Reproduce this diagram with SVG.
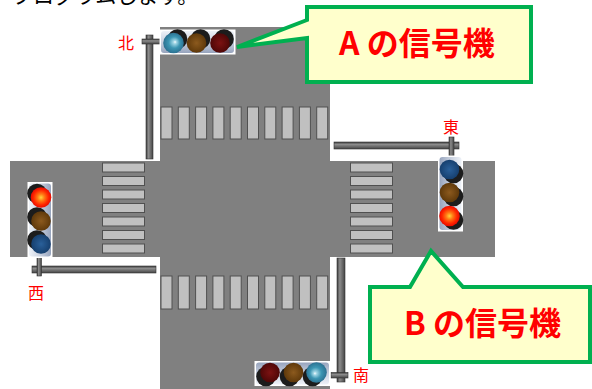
<svg xmlns="http://www.w3.org/2000/svg" xmlns:xlink="http://www.w3.org/1999/xlink" width="592" height="389" viewBox="0 0 592 389">
  <style>
    .road { fill: #808080; }
    .stripe { fill: #c0c0c0; stroke: #505050; stroke-width: 1; }
    .poleV { fill: url(#gPoleV); stroke: #333; stroke-width: 0.6; }
    .poleH { fill: url(#gPoleH); stroke: #333; stroke-width: 0.6; }
    .dir { font-family: "Noto Sans CJK JP", "Noto Sans", sans-serif; font-size: 16px; fill: #ff0000; }
    .callout { fill: #ffffcc; stroke: #00b050; stroke-width: 4; stroke-linejoin: miter; }
    .ctext { font-family: "Noto Sans CJK JP", "Liberation Sans", sans-serif; font-size: 32px; font-weight: bold; fill: #ff0000; }
    .top { font-family: "Noto Sans CJK JP", sans-serif; font-size: 21px; fill: #000; }
    .hood { fill: #1c1c1c; }
  </style>
  <defs>
    <linearGradient id="gPoleV" x1="0" y1="0" x2="1" y2="0">
      <stop offset="0" stop-color="#3c3c3c"/>
      <stop offset="0.35" stop-color="#8c8c8c"/>
      <stop offset="1" stop-color="#454545"/>
    </linearGradient>
    <linearGradient id="gPoleH" x1="0" y1="0" x2="0" y2="1">
      <stop offset="0" stop-color="#3c3c3c"/>
      <stop offset="0.35" stop-color="#8c8c8c"/>
      <stop offset="1" stop-color="#454545"/>
    </linearGradient>
    <linearGradient id="gHousing" x1="0" y1="0" x2="0" y2="1">
      <stop offset="0" stop-color="#eef2f8"/>
      <stop offset="0.5" stop-color="#c9d1e0"/>
      <stop offset="1" stop-color="#97a4bd"/>
    </linearGradient>
    <radialGradient id="gBlueOn" cx="0.5" cy="0.5" r="0.55" fx="0.58" fy="0.45">
      <stop offset="0" stop-color="#f4fcff"/>
      <stop offset="0.15" stop-color="#9fd5e4"/>
      <stop offset="0.5" stop-color="#3c96b3"/>
      <stop offset="1" stop-color="#28698a"/>
    </radialGradient>
    <radialGradient id="gBlueOff" cx="0.5" cy="0.5" r="0.55">
      <stop offset="0" stop-color="#2a609a"/>
      <stop offset="1" stop-color="#143c6a"/>
    </radialGradient>
    <radialGradient id="gAmberOff" cx="0.5" cy="0.5" r="0.55">
      <stop offset="0" stop-color="#8c5a1e"/>
      <stop offset="1" stop-color="#5a3508"/>
    </radialGradient>
    <radialGradient id="gRedOff" cx="0.5" cy="0.5" r="0.55">
      <stop offset="0" stop-color="#7c1212"/>
      <stop offset="1" stop-color="#4a0606"/>
    </radialGradient>
    <radialGradient id="gRedOn" cx="0.5" cy="0.5" r="0.55">
      <stop offset="0" stop-color="#ffd23c"/>
      <stop offset="0.3" stop-color="#ff7a14"/>
      <stop offset="0.65" stop-color="#ff2800"/>
      <stop offset="1" stop-color="#e00000"/>
    </radialGradient>

    <!-- signal head, horizontal layout: blue | amber | red, centred on the origin -->
    <g id="headBase">
      <rect x="-38" y="-12.5" width="76" height="25" fill="#ffffff"/>
      <rect x="-36.5" y="-11" width="73" height="22" rx="3" fill="url(#gHousing)"/>
      <circle class="hood" cx="-20" cy="-3" r="9.8"/>
      <circle class="hood" cx="3" cy="-3" r="9.8"/>
      <circle class="hood" cx="26.5" cy="-3" r="9.8"/>
    </g>
    <g id="headGo">
      <use xlink:href="#headBase"/>
      <circle cx="-24" cy="1" r="10.3" fill="url(#gBlueOn)"/>
      <circle cx="-1" cy="1" r="9.8" fill="url(#gAmberOff)"/>
      <circle cx="22.5" cy="1" r="9.8" fill="url(#gRedOff)"/>
    </g>
    <g id="headStop">
      <use xlink:href="#headBase"/>
      <circle cx="-24" cy="1" r="9.8" fill="url(#gBlueOff)"/>
      <circle cx="-1" cy="1" r="9.8" fill="url(#gAmberOff)"/>
      <circle cx="22.5" cy="1" r="10.3" fill="url(#gRedOn)"/>
    </g>
  </defs>

  <rect width="592" height="389" fill="#ffffff"/>

  <!-- heading line, mostly above the top edge -->
  <text class="top" x="12" y="3">プログラムします。</text>

  <!-- roads -->
  <g id="roads">
    <rect class="road" x="160" y="27" width="170" height="362"/>
    <rect class="road" x="10" y="161" width="485" height="96"/>
  </g>

  <!-- crosswalks -->
  <g id="crosswalk-north">
    <rect class="stripe" x="161" y="107" width="11" height="32"/>
    <rect class="stripe" x="178.3" y="107" width="11" height="32"/>
    <rect class="stripe" x="195.6" y="107" width="11" height="32"/>
    <rect class="stripe" x="212.9" y="107" width="11" height="32"/>
    <rect class="stripe" x="230.2" y="107" width="11" height="32"/>
    <rect class="stripe" x="247.5" y="107" width="11" height="32"/>
    <rect class="stripe" x="264.8" y="107" width="11" height="32"/>
    <rect class="stripe" x="282.1" y="107" width="11" height="32"/>
    <rect class="stripe" x="299.4" y="107" width="11" height="32"/>
    <rect class="stripe" x="316.7" y="107" width="11" height="32"/>
  </g>
  <g id="crosswalk-south">
    <rect class="stripe" x="161" y="276" width="11" height="33"/>
    <rect class="stripe" x="178.3" y="276" width="11" height="33"/>
    <rect class="stripe" x="195.6" y="276" width="11" height="33"/>
    <rect class="stripe" x="212.9" y="276" width="11" height="33"/>
    <rect class="stripe" x="230.2" y="276" width="11" height="33"/>
    <rect class="stripe" x="247.5" y="276" width="11" height="33"/>
    <rect class="stripe" x="264.8" y="276" width="11" height="33"/>
    <rect class="stripe" x="282.1" y="276" width="11" height="33"/>
    <rect class="stripe" x="299.4" y="276" width="11" height="33"/>
    <rect class="stripe" x="316.7" y="276" width="11" height="33"/>
  </g>
  <g id="crosswalk-west">
    <rect class="stripe" x="102.5" y="163" width="42" height="9"/>
    <rect class="stripe" x="102.5" y="176.5" width="42" height="9"/>
    <rect class="stripe" x="102.5" y="190" width="42" height="9"/>
    <rect class="stripe" x="102.5" y="203.5" width="42" height="9"/>
    <rect class="stripe" x="102.5" y="217" width="42" height="9"/>
    <rect class="stripe" x="102.5" y="230.5" width="42" height="9"/>
    <rect class="stripe" x="102.5" y="244" width="42" height="9"/>
  </g>
  <g id="crosswalk-east">
    <rect class="stripe" x="350.5" y="163" width="42" height="9"/>
    <rect class="stripe" x="350.5" y="176.5" width="42" height="9"/>
    <rect class="stripe" x="350.5" y="190" width="42" height="9"/>
    <rect class="stripe" x="350.5" y="203.5" width="42" height="9"/>
    <rect class="stripe" x="350.5" y="217" width="42" height="9"/>
    <rect class="stripe" x="350.5" y="230.5" width="42" height="9"/>
    <rect class="stripe" x="350.5" y="244" width="42" height="9"/>
  </g>

  <!-- signal: north -->
  <g id="signal-north">
    <rect class="poleV" x="146" y="35" width="7" height="124"/>
    <rect class="poleH" x="142" y="39" width="18" height="5"/>
    <use xlink:href="#headGo" transform="translate(197.5,42)"/>
    <text class="dir" x="118" y="49">北</text>
  </g>

  <!-- signal: south -->
  <g id="signal-south">
    <rect class="poleV" x="337" y="258" width="8" height="124"/>
    <rect class="poleH" x="331" y="372.5" width="17" height="5.5"/>
    <use xlink:href="#headGo" transform="translate(292.5,373.5) rotate(180)"/>
    <text class="dir" x="353" y="381">南</text>
  </g>

  <!-- signal: west -->
  <g id="signal-west">
    <rect class="poleH" x="32" y="266" width="124" height="7"/>
    <rect class="poleV" x="37" y="257" width="4.5" height="19"/>
    <use xlink:href="#headStop" transform="translate(40,220) rotate(-90)"/>
    <text class="dir" x="28" y="299">西</text>
  </g>

  <!-- signal: east -->
  <g id="signal-east">
    <rect class="poleH" x="334" y="142" width="125" height="7"/>
    <rect class="poleV" x="449" y="137" width="5" height="19"/>
    <use xlink:href="#headStop" transform="translate(450.5,193.5) rotate(90)"/>
    <text class="dir" x="443" y="133">東</text>
  </g>

  <!-- callouts -->
  <g id="callout-a">
    <path class="callout" d="M307,7 H531 V82 H307 V38 L237,47 L307,20 Z"/>
    <text class="ctext" x="339" y="55">A の信号機</text>
  </g>
  <g id="callout-b">
    <path class="callout" d="M370,287 H410 L431,251 L463,287 H590 V362 H370 Z"/>
    <text class="ctext" x="404" y="335">B の信号機</text>
  </g>
</svg>
